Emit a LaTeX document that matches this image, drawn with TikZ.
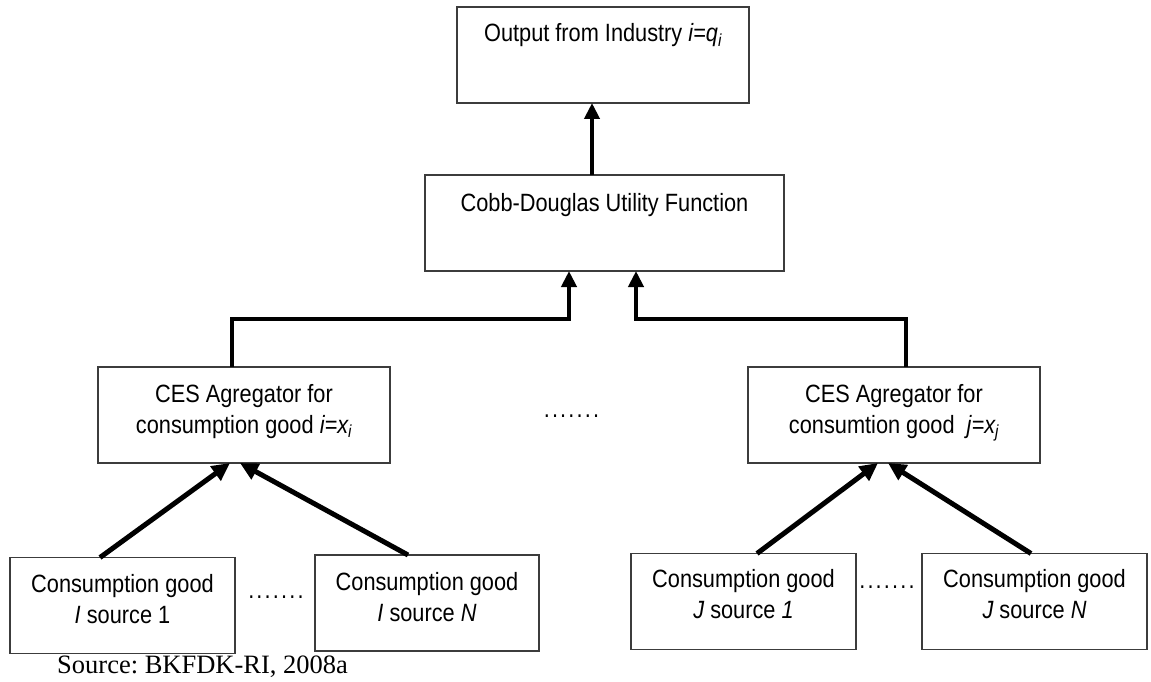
\documentclass[tikz,border=0pt]{standalone}
\usepackage{fontspec}
\setmainfont{Liberation Sans}[FakeStretch=0.87]
\newfontfamily\srcfont{Liberation Serif}
\usetikzlibrary{arrows.meta}
\definecolor{boxgray}{RGB}{60,60,60}
\frenchspacing
\newcommand\dotrun{.\kern2.2pt.\kern2.2pt.\kern2.2pt.\kern2.2pt.\kern2.2pt.\kern2.2pt.}
\begin{document}
\begin{tikzpicture}[x=1pt,y=-1pt,
  box/.style={draw=boxgray, line width=1.8pt, inner sep=0pt, outer sep=0pt,
    minimum height=96pt},
  txt/.style={font=\fontsize{25}{31}\selectfont, align=center, inner sep=0pt, anchor=base},
  conn/.style={line width=4pt, -{Triangle[length=16pt,width=15pt]}},
  diag/.style={line width=5pt, -{Triangle[length=18pt,width=17pt]}}]
\useasboundingbox (0,0) rectangle (1151,682);

% boxes
\node[box, minimum width=292pt] (out) at (603,55) {};
\node[box, minimum width=359pt] (cd) at (604.5,223) {};
\node[box, minimum width=292pt] (cesL) at (244,415) {};
\node[box, minimum width=292pt] (cesR) at (894,415) {};
\node[box, minimum width=225pt] (s1) at (122.5,605.5) {};
\node[box, minimum width=224pt] (s2) at (427,603) {};
\node[box, minimum width=225pt] (s3) at (743.5,601.5) {};
\node[box, minimum width=225pt] (s4) at (1034.5,601.5) {};

% box texts (two-line nodes are placed by the baseline of their last line)
\node[txt] (outT) at (603,42) {Output from Industry {\itshape i=q\textsubscript{i}}};
\node[txt] (cdT) at (604.5,211) {Cobb-Douglas Utility Function};
\node[txt] (cesLT) at (244,433) {CES Agregator for\\consumption good {\itshape i=x\textsubscript{i}}};
\node[txt] (cesRT) at (894,433) {CES Agregator for\\consumtion good\ \ {\itshape j=x\textsubscript{j}}};
\node[txt] (s1T) at (122.5,623) {Consumption good\\{\itshape I} source 1};
\node[txt] (s2T) at (427,621) {Consumption good\\{\itshape I} source {\itshape N}};
\node[txt] (s3T) at (743.5,618) {Consumption good\\{\itshape J} source {\itshape 1}};
\node[txt] (s4T) at (1034.5,618) {Consumption good\\{\itshape J} source {\itshape N}};

% ellipses
\node[txt] (dotsA) at (276,598) {\dotrun};
\node[txt] (dotsM) at (571.5,417) {\dotrun};
\node[txt] (dotsB) at (887,588) {\dotrun};

% connectors
\draw[conn] ([xshift=-12.5pt]cd.north) -- ([xshift=-11pt]out.south);
\draw[conn] ([xshift=-12pt]cesL.north) -- ++(0,-48) -| ([xshift=-35.5pt]cd.south);
\draw[conn] ([xshift=12pt]cesR.north) -- ++(0,-48) -| ([xshift=31.5pt]cd.south);
\draw[diag] ([xshift=-22.5pt]s1.north) -- ([xshift=-14pt]cesL.south);
\draw[diag] ([xshift=-19pt]s2.north) -- ([xshift=-4pt]cesL.south);
\draw[diag] ([xshift=13.5pt]s3.north) -- ([xshift=-16pt]cesR.south);
\draw[diag] ([xshift=-3.5pt]s4.north) -- ([xshift=-6pt]cesR.south);

% source line
\node[font=\srcfont\fontsize{26.5}{30}\selectfont, anchor=base west, inner sep=0pt] (src) at (57,673) {Source: BKFDK-RI, 2008a};
\end{tikzpicture}
\end{document}
